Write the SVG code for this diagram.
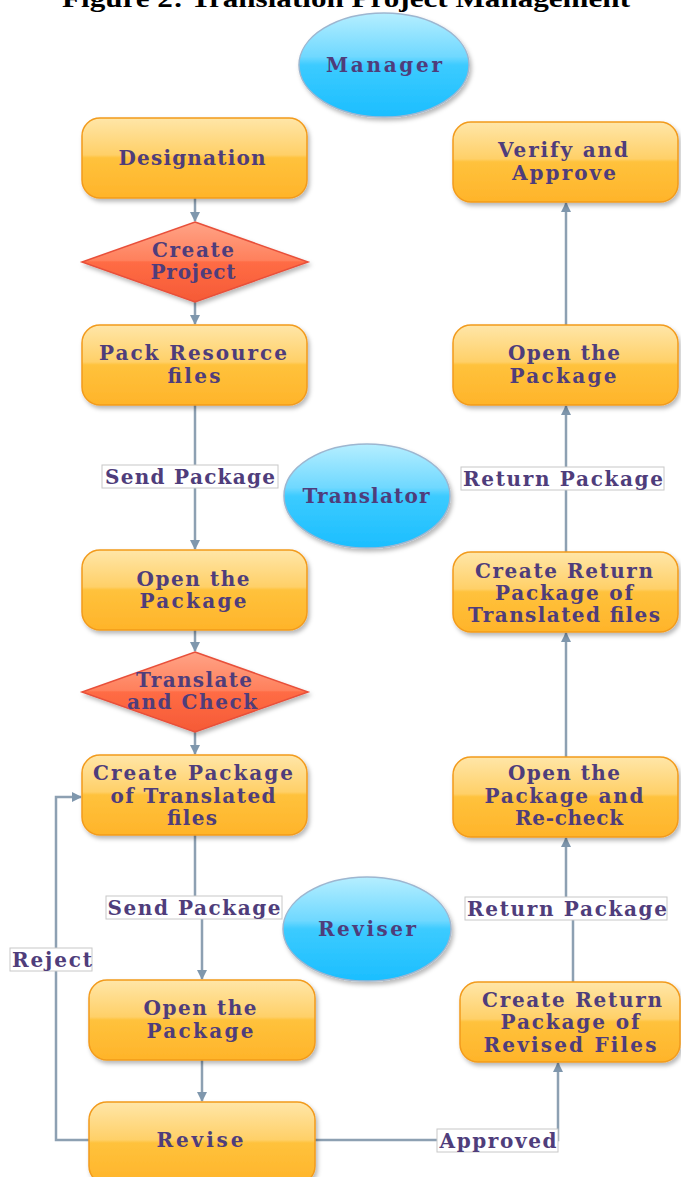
<svg xmlns="http://www.w3.org/2000/svg" width="681" height="1177" viewBox="0 0 681 1177">
<defs>
<linearGradient id="gBox" x1="0" y1="0" x2="0" y2="1">
<stop offset="0" stop-color="#FFE6A8"/>
<stop offset="0.46" stop-color="#FFD068"/>
<stop offset="0.5" stop-color="#FFC23C"/>
<stop offset="1" stop-color="#FFB42A"/>
</linearGradient>
<linearGradient id="gDia" x1="0" y1="0" x2="0" y2="1">
<stop offset="0" stop-color="#FFA386"/>
<stop offset="0.48" stop-color="#FF805C"/>
<stop offset="0.5" stop-color="#FF6C45"/>
<stop offset="1" stop-color="#F55A36"/>
</linearGradient>
<linearGradient id="gEll" x1="0" y1="0" x2="0" y2="1">
<stop offset="0" stop-color="#B5EEFF"/>
<stop offset="0.42" stop-color="#6FD8FF"/>
<stop offset="0.5" stop-color="#3CCBFF"/>
<stop offset="1" stop-color="#1BBEFF"/>
</linearGradient>
<filter id="sh" x="-10%" y="-10%" width="125%" height="130%">
<feDropShadow dx="2" dy="3" stdDeviation="2" flood-color="#000" flood-opacity="0.28"/>
</filter>
<marker id="ar" viewBox="0 0 10 10" refX="9" refY="5" markerWidth="10" markerHeight="10" markerUnits="userSpaceOnUse" orient="auto">
<path d="M0,0 L10,5 L0,10 z" fill="#7F97AD"/>
</marker>
<style>
.box{fill:url(#gBox);stroke:#F29B1D;stroke-width:1.5;filter:url(#sh)}
.dia{fill:url(#gDia);stroke:#E8503A;stroke-width:1.5;filter:url(#sh)}
.ell{fill:url(#gEll);stroke:#9DB6D0;stroke-width:1.5;filter:url(#sh)}
.t{font-family:"DejaVu Serif","Liberation Serif",serif;font-weight:bold;font-size:20px;fill:#4F3D7B;text-anchor:middle}
.ln{fill:none;stroke:#8DA0B2;stroke-width:2.5}
.lb{fill:#FFFFFF;stroke:#C8C8C8;stroke-width:1}
.title{font-family:"Liberation Serif",serif;font-weight:bold;font-size:26px;fill:#000;text-anchor:middle}
</style>
</defs>
<rect width="681" height="1177" fill="#FFFFFF"/>
<text class="title" x="346" y="7" textLength="568" lengthAdjust="spacingAndGlyphs">Figure 2: Translation Project Management</text>

<g id="connectors">
<path class="ln" d="M195,198 V221" marker-end="url(#ar)"/>
<path class="ln" d="M195,302 V324" marker-end="url(#ar)"/>
<path class="ln" d="M195,405 V549" marker-end="url(#ar)"/>
<path class="ln" d="M195,630 V651" marker-end="url(#ar)"/>
<path class="ln" d="M195,732 V754" marker-end="url(#ar)"/>
<path class="ln" d="M195,835 V908 H202 V979" marker-end="url(#ar)"/>
<path class="ln" d="M202,1060 V1101" marker-end="url(#ar)"/>
<path class="ln" d="M89,1140 H56 V797 H81" marker-end="url(#ar)"/>
<path class="ln" d="M315,1140 H558 V1063" marker-end="url(#ar)"/>
<path class="ln" d="M573,982 V908 H566 V838" marker-end="url(#ar)"/>
<path class="ln" d="M566,757 V633" marker-end="url(#ar)"/>
<path class="ln" d="M566,552 V406" marker-end="url(#ar)"/>
<path class="ln" d="M566,325 V203" marker-end="url(#ar)"/>
</g>

<g id="manager">
<ellipse class="ell" cx="384" cy="65" rx="85" ry="52"/>
<text class="t" x="384" y="72" textLength="116" lengthAdjust="spacing">Manager</text>
</g>
<g id="translator">
<ellipse class="ell" cx="367" cy="496" rx="83" ry="52"/>
<text class="t" x="366" y="503" textLength="127" lengthAdjust="spacing">Translator</text>
</g>
<g id="reviser">
<ellipse class="ell" cx="367" cy="929" rx="84" ry="52"/>
<text class="t" x="367" y="936" textLength="98" lengthAdjust="spacing">Reviser</text>
</g>

<g id="designation">
<rect class="box" x="82" y="118" width="225" height="80" rx="18"/>
<text class="t" x="192" y="165" textLength="147" lengthAdjust="spacing">Designation</text>
</g>
<g id="create-project">
<polygon class="dia" points="195,222 308,262 195,302 82,262"/>
<text class="t" x="193" y="257" textLength="82" lengthAdjust="spacing">Create</text>
<text class="t" x="193" y="279" textLength="85" lengthAdjust="spacing">Project</text>
</g>
<g id="pack-resource">
<rect class="box" x="82" y="325" width="225" height="80" rx="18"/>
<text class="t" x="193" y="360" textLength="188" lengthAdjust="spacing">Pack Resource</text>
<text class="t" x="194" y="383" textLength="53" lengthAdjust="spacing">files</text>
</g>
<g id="open-package-1">
<rect class="box" x="82" y="550" width="225" height="80" rx="18"/>
<text class="t" x="193" y="586" textLength="113" lengthAdjust="spacing">Open the</text>
<text class="t" x="193" y="608" textLength="107" lengthAdjust="spacing">Package</text>
</g>
<g id="translate-check">
<polygon class="dia" points="195,652 308,692 195,732 82,692"/>
<text class="t" x="194" y="687" textLength="116" lengthAdjust="spacing">Translate</text>
<text class="t" x="192" y="709" textLength="130" lengthAdjust="spacing">and Check</text>
</g>
<g id="create-package">
<rect class="box" x="82" y="755" width="225" height="80" rx="18"/>
<text class="t" x="193" y="780" textLength="200" lengthAdjust="spacing">Create Package</text>
<text class="t" x="193" y="803" textLength="165" lengthAdjust="spacing">of Translated</text>
<text class="t" x="192" y="825" textLength="50" lengthAdjust="spacing">files</text>
</g>
<g id="open-package-2">
<rect class="box" x="89" y="980" width="226" height="80" rx="18"/>
<text class="t" x="200" y="1015" textLength="113" lengthAdjust="spacing">Open the</text>
<text class="t" x="200" y="1038" textLength="107" lengthAdjust="spacing">Package</text>
</g>
<g id="revise">
<rect class="box" x="89" y="1102" width="226" height="82" rx="18"/>
<text class="t" x="200" y="1147" textLength="87" lengthAdjust="spacing">Revise</text>
</g>

<g id="verify-approve">
<rect class="box" x="453" y="122" width="225" height="80" rx="18"/>
<text class="t" x="563" y="157" textLength="130" lengthAdjust="spacing">Verify and</text>
<text class="t" x="564" y="180" textLength="104" lengthAdjust="spacing">Approve</text>
</g>
<g id="open-package-3">
<rect class="box" x="453" y="325" width="225" height="80" rx="18"/>
<text class="t" x="564" y="360" textLength="112" lengthAdjust="spacing">Open the</text>
<text class="t" x="563" y="383" textLength="107" lengthAdjust="spacing">Package</text>
</g>
<g id="create-return-translated">
<rect class="box" x="453" y="552" width="225" height="80" rx="18"/>
<text class="t" x="564" y="578" textLength="178" lengthAdjust="spacing">Create Return</text>
<text class="t" x="564" y="600" textLength="138" lengthAdjust="spacing">Package of</text>
<text class="t" x="564" y="622" textLength="192" lengthAdjust="spacing">Translated files</text>
</g>
<g id="open-recheck">
<rect class="box" x="453" y="757" width="225" height="80" rx="18"/>
<text class="t" x="564" y="780" textLength="112" lengthAdjust="spacing">Open the</text>
<text class="t" x="564" y="803" textLength="159" lengthAdjust="spacing">Package and</text>
<text class="t" x="569" y="825" textLength="108" lengthAdjust="spacing">Re-check</text>
</g>
<g id="create-return-revised">
<rect class="box" x="460" y="982" width="220" height="80" rx="18"/>
<text class="t" x="572" y="1007" textLength="180" lengthAdjust="spacing">Create Return</text>
<text class="t" x="570" y="1029" textLength="139" lengthAdjust="spacing">Package of</text>
<text class="t" x="570" y="1052" textLength="173" lengthAdjust="spacing">Revised Files</text>
</g>

<g id="edge-labels">
<rect class="lb" x="102" y="465" width="176" height="23"/>
<text class="t" x="190" y="484" textLength="170" lengthAdjust="spacing">Send Package</text>
<rect class="lb" x="106" y="896" width="176" height="23"/>
<text class="t" x="194" y="915" textLength="173" lengthAdjust="spacing">Send Package</text>
<rect class="lb" x="461" y="467" width="203" height="23"/>
<text class="t" x="563" y="486" textLength="200" lengthAdjust="spacing">Return Package</text>
<rect class="lb" x="465" y="897" width="202" height="23"/>
<text class="t" x="567" y="916" textLength="200" lengthAdjust="spacing">Return Package</text>
<rect class="lb" x="10" y="948" width="82" height="23"/>
<text class="t" x="52" y="967" textLength="80" lengthAdjust="spacing">Reject</text>
<rect class="lb" x="437" y="1129" width="121" height="23"/>
<text class="t" x="498" y="1148" textLength="117" lengthAdjust="spacing">Approved</text>
</g>
</svg>
